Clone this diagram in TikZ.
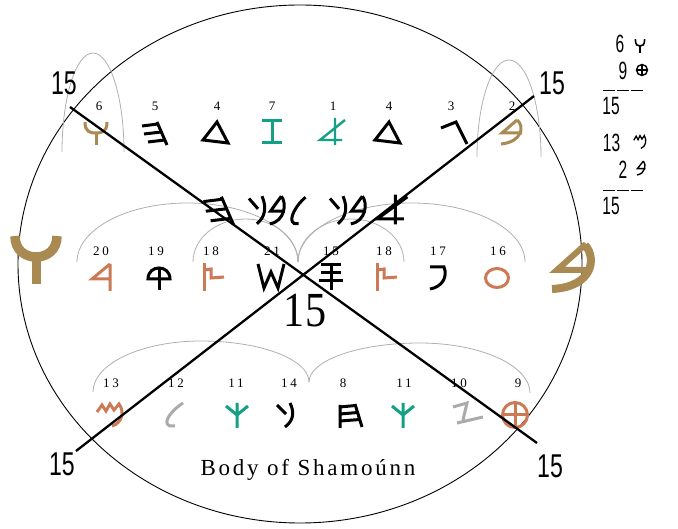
\documentclass[tikz,border=0pt]{standalone}
\usepackage{fontspec}
\usepackage{graphicx}
\setmainfont{Liberation Serif}
\newfontfamily\sansf{Liberation Sans}
\definecolor{gtan}{HTML}{A88A52}
\definecolor{gorange}{HTML}{CC7A55}
\definecolor{gteal}{HTML}{14A085}
\definecolor{ggray}{HTML}{ABABAB}
\definecolor{garc}{HTML}{B0B0B0}
\tikzset{
  glyph/.style={line width=3pt},
  arcline/.style={draw=garc, line width=0.8pt},
  cross/.style={draw=black, line width=2.3pt},
  num/.style={inner sep=0pt, font=\fontsize{13}{13}\selectfont\addfontfeature{LetterSpace=20}},
  big15/.style={inner sep=0pt, font=\sansf\fontsize{33}{33}\selectfont},
  small15/.style={inner sep=0pt, font=\sansf\fontsize{25}{25}\selectfont},
  pwaw/.pic={\draw (-11,-11) .. controls (-11,-1) and (-6,0) .. (0,0) .. controls (6,0) and (11,-1) .. (11,-11); \draw (0,0) -- (0,12);},
  pheh/.pic={\draw (2,-11) -- (12,12); \draw (-13,-7)--(2.9,-9) (-11,1)--(6.3,-1) (-7,9)--(9.8,7);},
  pdalet/.pic={\draw[line join=miter] (0,-10) -- (-14,8) -- (11,11) -- cycle;},
  pzayin/.pic={\draw (-10,-11)--(10,-11) (-10,11)--(10,11) (0,-11)--(0,11);},
  paleph/.pic={\draw (2,-14)--(2,13) (12,-12)--(-13,8)--(9,8);},
  pgimel/.pic={\draw[line join=miter] (-11,-5)--(4,-11)--(15,11);},
  pbet/.pic={\draw (6,-12) .. controls (14,-6) and (11,10) .. (-10,12); \draw (6,-12) -- (-9,1) -- (11,1);},
  presh/.pic={\draw (8,-13)--(8,14) (8,-13)--(-10,2)--(8,2);},
  pqoph/.pic={\draw (-11,2) .. controls (-11,-12.7) and (11,-12.7) .. (11,2) -- cycle; \draw (0,-9)--(0,13);},
  pflag/.pic={\draw (-10,-14)--(-10,14); \draw (-10,-7)--(-3,-8)--(-3,1)--(10,0);},
  pshin/.pic={\draw[line join=miter] (-13,-12)--(-7,12)--(0,-4)--(7,12)--(13,-12);},
  psamekh/.pic={\draw (0,-12)--(0,15) (-10,-10)--(10,-10) (-10,-2)--(10,-2) (-12,6)--(12,6);},
  pkaph/.pic={\draw (-8,-10) -- (6,-10) .. controls (10,0) and (4,10) .. (-8,12);},
  pO/.pic={\draw (0,0) ellipse [x radius=11.5, y radius=9.5];},
  pmem/.pic={\draw (-13,-3)--(-8,-10)--(-4,-4)--(0,-11)--(4,-5)--(9,-11) .. controls (15,-3) and (12,8) .. (2,11);},
  plamed/.pic={\draw (10,-12) .. controls (0,-6) and (-12,8) .. (-3,11) -- (2,11);},
  ptrident/.pic={\draw (0,-12)--(0,13) (-11,-9)--(0,0)--(11,-9);},
  pnun/.pic={\draw (-6,-10)--(3,-1) (7,-12) .. controls (12,-2) and (10,6) .. (2,12);},
  pheth/.pic={\draw (-10,-10)--(-10,13) (5,-11)--(12,12) (-10,-8)--(5.5,-9.5) (-10,-1)--(7.7,-2.5) (-10,6)--(9.9,4.5);},
  pzz/.pic={\draw (-14,-7)--(0,-11)--(-4,6) (-10,9)--(16,3);},
  ptet/.pic={\draw (0,0) circle [radius=12.5]; \draw (-12.5,0)--(12.5,0) (0,-12.5)--(0,12.5);},
}
\begin{document}
\begin{tikzpicture}[x=1pt,y=-1pt]
\useasboundingbox (0,0) rectangle (678,529);
\fill[white] (0,0) rectangle (678,529);

% outer ellipse
\draw[line width=0.9pt] (300,264) ellipse [x radius=282, y radius=259];

% gray arcs
\draw[arcline] (62,152) .. controls (62,97.4) and (75.9,53) .. (93,53) .. controls (110.1,53) and (124,97.4) .. (124,152);
\draw[arcline] (477,157) .. controls (477,103.5) and (491.3,60) .. (509,60) .. controls (526.7,60) and (541,103.5) .. (541,157);
\draw[arcline] (77,262) .. controls (77,229.4) and (126.5,203) .. (187.5,203) .. controls (248.5,203) and (298,229.4) .. (298,262);
\draw[arcline] (193,262) .. controls (193,238.3) and (216.5,219) .. (245.5,219) .. controls (274.5,219) and (298,238.3) .. (298,262);
\draw[arcline] (298,262) .. controls (298,229.4) and (348.8,203) .. (411.5,203) .. controls (474.2,203) and (525,229.4) .. (525,262);
\draw[arcline] (298,262) .. controls (298,238.3) and (321.7,219) .. (351,219) .. controls (380.3,219) and (404,238.3) .. (404,262);
\draw[arcline] (93,392) .. controls (93,363.8) and (141.4,341) .. (201,341) .. controls (260.6,341) and (309,359.4) .. (309,382);
\draw[arcline] (309,382) .. controls (309,360.5) and (358.5,343) .. (419.5,343) .. controls (480.5,343) and (530,365.4) .. (530,393);

% top row glyphs
\pic[gtan, glyph] at (96,133) {pwaw};
\pic[black, glyph] at (155,133) {pheh};
\pic[black, glyph] at (217,132) {pdalet};
\pic[gteal, glyph] at (272,132) {pzayin};
\pic[gteal, glyph, line width=2.4pt] at (333,132) {paleph};
\pic[black, glyph] at (389,132) {pdalet};
\pic[black, glyph] at (452,133) {pgimel};
\pic[gtan, glyph] at (511,132) {pbet};

% top row numbers
\node[num] (t6) at (99,106) {6};
\node[num] (t5) at (155,106) {5};
\node[num] (t4a) at (217,106) {4};
\node[num] (t7) at (272,106) {7};
\node[num] (t1) at (333,106) {1};
\node[num] (t4b) at (389,106) {4};
\node[num] (t3) at (451,106) {3};
\node[num] (t2) at (512,106) {2};

% middle row glyphs
\pic[gorange, glyph] at (102,277) {presh};
\pic[black, glyph] at (159,277) {pqoph};
\pic[gorange, glyph] at (214,277) {pflag};
\pic[black, glyph] at (271,276) {pshin};
\pic[black, glyph] at (331,275) {psamekh};
\pic[gorange, glyph] at (387,277) {pflag};
\pic[black, glyph] at (438,277) {pkaph};
\pic[gorange, glyph] at (497,278) {pO};

% middle row numbers
\node[num] (m20) at (101,251) {20};
\node[num] (m19) at (156,251) {19};
\node[num] (m18a) at (211,251) {18};
\node[num] (m21) at (272,251) {21};
\node[num] (m15) at (331,251) {15};
\node[num] (m18b) at (384,251) {18};
\node[num] (m17) at (438,251) {17};
\node[num] (m16) at (498,251) {16};

% bottom row glyphs
\pic[gorange, glyph] at (110,415) {pmem};
\pic[ggray, glyph] at (173,415) {plamed};
\pic[gteal, glyph] at (237,415) {ptrident};
\pic[black, glyph] at (283,415) {pnun};
\pic[black, glyph] at (350,415) {pheth};
\pic[gteal, glyph] at (403,415) {ptrident};
\pic[ggray, glyph] at (467,414) {pzz};
\pic[gorange, glyph] at (515,415) {ptet};

% bottom row numbers
\node[num] (b13) at (111,383) {13};
\node[num] (b12) at (176,383) {12};
\node[num] (b11a) at (236,383) {11};
\node[num] (b14) at (289,383) {14};
\node[num] (b8) at (343,383) {8};
\node[num] (b11b) at (404,383) {11};
\node[num] (b10) at (459,383) {10};
\node[num] (b9) at (518,383) {9};

% central inscription
\pic[black, glyph, scale=1.2] at (219,210) {pheh};
\pic[black, glyph, xscale=1.0, yscale=1.15] at (255,210) {pnun};
\pic[black, glyph, xscale=0.72, yscale=1.15] at (277,210) {pbet};
\pic[black, glyph, xscale=0.85, yscale=1.15] at (297,211) {plamed};
\pic[black, glyph, xscale=1.0, yscale=1.15] at (336,210) {pnun};
\pic[black, glyph, xscale=0.72, yscale=1.15] at (358,210) {pbet};
\pic[black, glyph, xscale=1.2, yscale=1.1] at (393,210) {paleph};

% big side glyphs
\draw[gtan, line width=9.5pt] (15,236) .. controls (15,250) and (25,257) .. (36,257) .. controls (47,257) and (57,250) .. (57,236);
\draw[gtan, line width=9pt] (36,254) -- (36,284);
\draw[gtan, line width=8pt] (585,245) .. controls (597,258) and (593,287) .. (552,289);
\draw[gtan, line width=6pt, line join=miter] (586,244) -- (557,270) -- (589,270);

% crossing lines
\coordinate (tl) at (70,107);
\coordinate (br) at (537,443);
\coordinate (bl) at (76,451);
\coordinate (tr) at (534,96);
\draw[cross] (tl) -- (br);
\draw[cross] (bl) -- (tr);

% corner labels
\node[big15] (c1) at (64,83) {\scalebox{0.7}[1]{15}};
\node[big15] (c2) at (552,83) {\scalebox{0.7}[1]{15}};
\node[big15] (c3) at (62,464) {\scalebox{0.7}[1]{15}};
\node[big15] (c4) at (550,466) {\scalebox{0.7}[1]{15}};

% centre 15
\node[inner sep=0pt, font=\fontsize{49}{49}\selectfont] (cen) at (305,311) {\scalebox{0.86}[1]{15}};

% caption
\node[inner sep=0pt, font=\fontsize{23}{23}\selectfont\addfontfeature{LetterSpace=12}] (cap) at (308,470) {Body of Shamoúnn};

% right-hand sums
\node[small15] (r6) at (620,44) {\scalebox{0.62}[1]{6}};
\pic[black, line width=1.6pt, xscale=0.42, yscale=0.62] at (640,46) {pwaw};
\node[small15] (r9) at (623,71) {\scalebox{0.62}[1]{9}};
\pic[black, line width=1.4pt, scale=0.44] at (642,70) {ptet};
\draw[line width=0.8pt, dash pattern=on 12pt off 2pt] (603,90) -- (643,90);
\node[small15] (r15a) at (611,106) {\scalebox{0.62}[1]{15}};
\node[small15] (r13) at (611.5,143) {\scalebox{0.62}[1]{13}};
\pic[black, line width=1.3pt, xscale=0.48, yscale=0.58] at (640,142) {pmem};
\node[small15] (r2) at (623,170) {\scalebox{0.62}[1]{2}};
\pic[black, line width=1.4pt, xscale=0.4, yscale=0.58] at (641,168) {pbet};
\draw[line width=0.8pt, dash pattern=on 12pt off 2pt] (603,190) -- (643,190);
\node[small15] (r15b) at (611,206) {\scalebox{0.62}[1]{15}};
\end{tikzpicture}
\end{document}
